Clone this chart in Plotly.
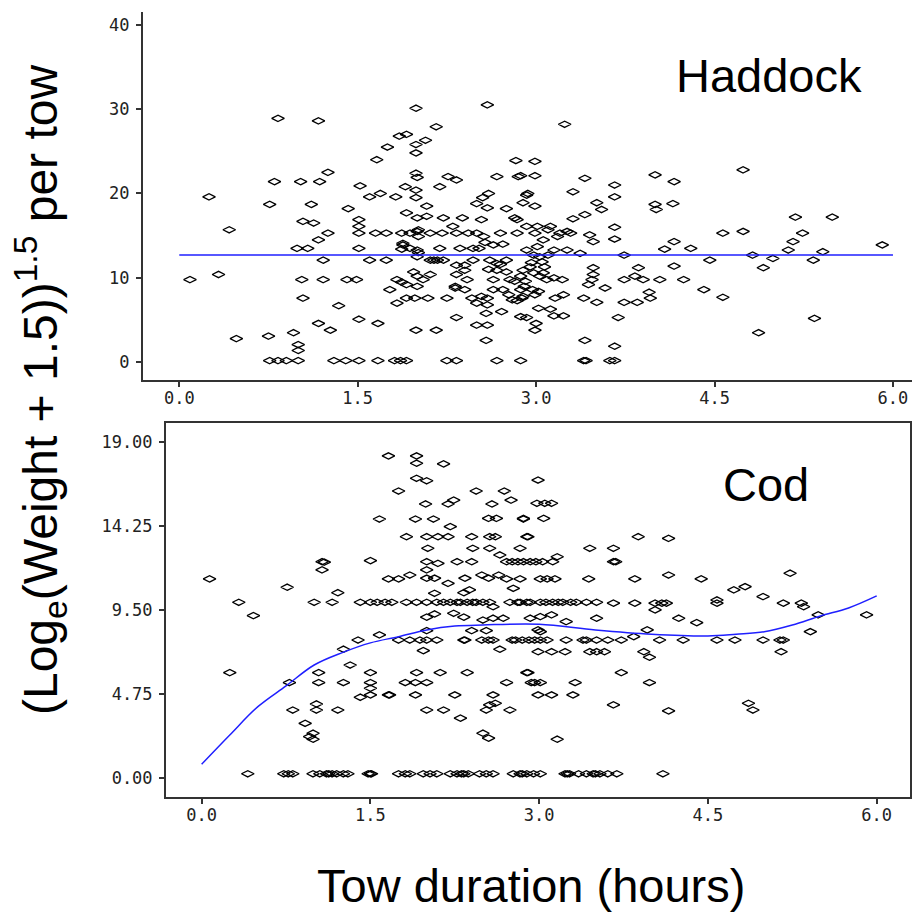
import plotly.graph_objects as go

# ---------------- Haddock (top panel) ----------------
haddock_pts = [
    (0.25,19.6),(0.83,28.9),(1.17,28.6),(0.80,21.4),(0.76,18.7),(1.02,21.4),(1.18,21.4),(1.25,22.5),(1.11,18.7),(1.42,18.2),
    (1.52,20.9),(1.60,19.6),(1.69,20.0),(1.82,19.6),(1.66,24.0),(1.75,25.5),(1.85,26.8),(1.91,27.0),(1.99,30.1),(1.99,25.8),
    (1.99,24.8),(2.07,26.3),(2.16,27.9),(1.99,22.4),(2.00,21.9),(1.99,20.4),(1.99,19.5),(1.90,20.8),(2.19,20.8),(2.26,22.0),
    (2.33,21.6),(2.59,30.5),(2.83,23.9),(2.67,22.0),(2.85,22.0),(2.60,20.0),(2.55,19.5),(2.50,18.8),(2.59,18.3),(2.75,18.2),
    (2.89,18.9),(2.92,19.8),(3.24,28.2),(2.99,23.8),(2.99,22.1),(2.87,22.1),(3.41,21.8),(3.31,20.2),(2.93,20.0),(3.66,21.0),
    (3.66,19.6),(3.51,18.9),(4.00,22.2),(4.16,21.4),(4.15,18.8),(4.00,18.7),(4.74,22.8),(3.55,18.1),(4.01,18.1),(5.18,17.2),
    (5.49,17.2),(4.57,15.3),(4.74,15.5),(5.24,15.3),(5.16,14.3),(5.12,13.3),(5.41,13.1),(5.91,13.9),(5.33,12.1),(4.99,12.3),
    (4.82,12.7),(4.91,11.2),(4.16,14.3),(4.08,13.4),(4.30,13.5),(4.46,12.1),(4.16,11.4),(4.24,9.8),(4.41,8.6),(4.57,7.7),
    (4.04,9.8),(3.86,11.2),(3.83,10.2),(3.90,9.8),(3.74,9.8),(3.95,8.3),(3.96,7.6),(3.74,7.1),(3.85,7.1),(3.74,12.7),
    (3.37,12.9),(3.66,16.0),(3.66,14.6),(3.48,14.3),(3.45,15.1),(3.41,17.5),(3.31,17.0),(3.48,11.2),(3.47,9.8),(3.44,9.2),
    (3.58,8.8),(3.40,7.6),(3.51,7.1),(3.69,5.3),(3.41,2.6),(3.66,1.9),(3.40,0.2),(3.42,0.2),(3.62,0.2),(3.66,0.2),
    (2.87,0.2),(4.87,3.5),(5.34,5.2),(3.00,4.6),(2.99,3.8),(2.87,5.4),(2.92,5.3),(3.02,6.4),(3.12,6.3),(3.15,5.5),
    (3.23,5.5),(3.16,7.6),(3.23,8.0),(2.99,8.0),(2.89,7.8),(3.22,9.8),(3.15,10.0),(3.09,9.8),(3.03,10.2),(2.98,10.6),
    (2.91,9.6),(3.07,11.3),(2.95,11.3),(2.89,10.9),(3.03,12.5),(2.98,12.7),(2.92,13.3),(3.01,13.7),(3.15,13.3),(3.26,13.3),
    (3.06,14.5),(2.99,15.3),(3.10,15.7),(3.20,15.3),(3.29,15.3),(2.92,16.1),(3.01,16.1),(3.12,16.1),(2.99,18.5),
    (0.09,9.8),(0.33,10.4),(0.42,15.7),(0.48,2.8),(0.75,3.1),(0.96,3.5),(1.00,2.1),(1.00,1.4),
    (0.76,0.2),(0.83,0.2),(0.90,0.2),(1.00,0.2),(1.30,0.2),(1.40,0.2),(1.51,0.2),(1.67,0.2),(1.81,0.2),(1.86,0.2),
    (1.91,0.2),(2.25,0.2),(2.33,0.2),(2.67,0.2),
    (1.03,9.8),(1.21,9.8),(1.41,9.8),(1.49,9.8),(1.04,7.6),(1.34,6.7),(1.17,4.6),(1.27,3.8),(1.51,5.1),(1.67,4.6),
    (1.99,3.8),(2.16,3.8),(2.33,5.3),(2.58,2.6),(2.50,4.4),(2.59,4.4),(2.58,5.8),(2.71,6.0),
    (0.99,13.5),(1.08,13.5),(1.13,16.5),(1.04,16.7),(1.17,14.5),(1.25,15.3),(1.21,12.1),(1.51,16.9),(1.51,16.1),(1.51,15.3),
    (1.51,13.5),(1.60,12.1),(1.65,15.3),(1.74,15.3),(1.74,12.1),(1.87,15.3),(1.94,15.3),(1.91,17.7),(2.00,17.1),(2.08,18.5),
    (2.00,15.5),(1.88,13.9),(1.94,13.5),(2.00,13.3),(2.11,15.3),(2.21,15.3),(2.22,17.1),(2.38,17.1),(2.30,16.1),(2.33,15.3),
    (2.43,15.3),(2.50,15.3),(2.56,14.9),(2.70,15.3),(2.19,13.5),(2.36,13.5),(2.47,13.5),(2.52,13.5),(2.64,13.9),(2.84,15.3),
    (2.84,16.9),(2.11,12.1),(2.17,12.1),(2.22,12.1),(2.33,11.5),(2.40,11.5),(2.47,12.1),(2.61,12.1),(2.67,11.7),(2.75,12.1),
    (2.40,10.9),(2.67,10.9),(1.83,9.8),(1.91,9.2),(2.00,9.0),(1.97,10.7),(2.05,9.8),(2.11,10.4),(1.77,8.6),(1.83,7.0),
    (1.91,7.6),(1.98,7.6),(2.09,7.6),(2.25,7.6),(2.32,8.8),(2.40,8.6),(2.46,7.6),(2.59,7.6),(2.59,6.8),(2.64,8.6),
    (2.72,8.6),(2.87,8.6),(2.80,7.4),(2.88,7.6),(2.64,9.8),(2.78,9.8),(2.87,10.2),(2.75,10.7),
    (1.87,13.4),(2.01,13.0),(1.88,14.1),(2.01,15.7),(2.14,12.1),(2.33,10.4),(2.42,9.8),(2.32,9.0),(2.50,7.0),(1.87,9.5),
    (2.00,10.2),(2.00,12.5),(2.01,14.9),(2.08,17.3),(2.82,17.1),(2.54,16.9),(3.18,14.9),(3.26,15.5),(2.57,14.2),(2.72,14.0),
    (3.48,10.4),(2.96,11.8),(3.05,11.9),(3.10,12.7),(3.06,10.6),(2.82,9.6),(2.90,9.0),(2.97,8.6),(3.02,8.4),(2.77,8.0),
    (2.84,7.3),(2.54,7.8),(2.60,11.0),(2.70,11.6),
]
haddock_x = [p[0] for p in haddock_pts]
haddock_y = [p[1] for p in haddock_pts]

haddock_fit_x = [0.0, 6.0]
haddock_fit_y = [12.7, 12.7]

# ---------------- Cod (bottom panel) ----------------
cod_pts = [
    (0.07,11.25),(0.33,9.93),(0.46,9.18),(0.76,10.78),(1.00,9.93),(1.16,9.93),(1.21,10.47),(1.07,12.22),(1.07,11.76),(1.09,12.2),
    (1.50,12.28),(1.58,14.63),(1.66,18.19),(1.75,16.21),(1.90,14.63),(1.91,18.19),(1.91,17.78),(2.15,17.74),(1.91,16.93),(2.00,16.79),
    (1.99,15.48),(2.19,15.48),(2.24,15.70),(2.44,16.21),(2.69,16.21),(2.58,15.48),(2.75,15.70),(2.06,14.63),(2.55,14.67),(2.62,14.67),
    (2.86,14.63),(2.21,14.20),(1.82,13.63),(2.00,13.63),(2.10,13.63),(2.19,13.63),(2.40,13.63),(2.56,13.63),(2.61,13.63),(2.89,13.63),
    (2.01,12.98),(2.41,12.98),(2.56,12.98),(2.83,12.98),(2.00,12.22),(2.10,12.13),(2.27,12.22),(2.40,12.22),(2.65,12.60),
    (2.71,12.22),(2.76,12.22),(2.81,12.22),(2.86,12.22),(2.92,12.22),(2.00,11.76),(1.66,11.25),(1.75,11.25),(1.85,11.47),
    (2.00,11.29),(2.07,11.29),(2.19,11.00),(2.34,11.29),(2.49,11.47),(2.55,11.29),(2.64,11.47),(2.71,11.25),(2.83,11.25),
    (2.77,10.72),(2.07,10.44),(2.33,10.47),(2.38,10.63),
    (1.41,9.93),(1.50,9.93),(1.56,9.93),(1.63,9.93),(1.69,9.93),(1.82,9.93),(1.91,9.93),(2.00,9.93),(2.09,9.93),(2.15,9.93),
    (2.21,9.93),(2.27,9.93),(2.30,9.93),(2.36,9.93),(2.41,9.93),(2.44,9.93),(2.50,9.93),(2.56,9.93),(2.59,9.68),(2.74,9.93),
    (2.81,9.93),(2.89,9.93),
    (0.25,5.96),(0.78,5.40),(1.04,5.96),(1.04,5.40),(1.26,5.40),(1.32,6.39),(1.26,7.28),(1.39,7.80),(1.50,5.96),(1.50,5.40),
    (1.50,5.08),(1.50,4.70),(1.41,4.57),(1.66,4.70),(1.67,4.70),(1.90,4.70),(1.81,5.40),(1.90,5.40),(2.00,5.40),(1.91,5.96),
    (2.12,5.96),(2.36,5.96),(2.00,3.85),(2.15,3.85),(2.30,3.39),(2.25,4.70),(2.59,4.70),(2.71,5.40),(2.89,5.96),(2.56,4.14),
    (2.61,4.23),(2.53,3.85),(2.74,3.85),(2.50,2.54),(2.55,2.26),(0.81,3.85),(0.92,3.10),(1.02,4.19),(1.02,3.85),(0.99,2.54),
    (0.96,2.35),(0.99,2.20),(1.21,3.85),(1.97,7.20),
    (1.75,7.80),(1.85,7.80),(1.94,7.80),(2.00,7.80),(2.09,7.80),(2.34,7.80),(2.49,7.80),(2.55,7.80),(2.59,7.80),(2.79,7.80),
    (2.85,7.80),(2.91,7.80),
    (2.00,8.33),(2.40,8.33),(2.53,8.33),(2.65,7.28),(1.58,8.09),(2.00,9.09),(2.07,9.27),(2.24,9.31),(2.33,9.09),(2.50,8.93),
    (2.59,9.03),(2.68,9.03),
    (0.41,0.25),(0.73,0.25),(0.77,0.25),(0.81,0.25),(0.99,0.25),(1.05,0.25),(1.11,0.25),(1.13,0.25),(1.16,0.25),(1.20,0.25),
    (1.26,0.25),(1.30,0.25),(1.48,0.25),(1.50,0.25),(1.51,0.25),(1.75,0.25),(1.81,0.25),(1.85,0.25),(1.97,0.25),(2.03,0.25),
    (2.09,0.25),(2.21,0.25),(2.27,0.25),(2.31,0.25),(2.33,0.25),(2.37,0.25),(2.47,0.25),(2.53,0.25),(2.59,0.25),(2.77,0.25),
    (2.83,0.25),(2.85,0.25),(2.89,0.25),(2.95,0.25),(3.01,0.25),(3.23,0.25),(3.25,0.25),(3.27,0.25),(3.35,0.25),(3.42,0.25),
    (3.48,0.25),(3.50,0.25),(3.54,0.25),(3.61,0.25),(3.69,0.25),(4.10,0.25),
    (2.83,9.93),(2.92,9.93),(3.01,9.93),(3.06,9.93),(3.12,9.93),(3.17,9.93),(3.21,9.93),(3.28,9.93),(3.33,9.93),(3.42,9.93),
    (3.51,9.93),(3.66,9.88),(3.85,9.88),(4.03,9.88),(4.09,9.88),(4.13,9.88),(4.03,9.50),(4.58,9.88),(5.17,9.88),(5.33,9.88),
    (5.35,9.68),
    (5.91,9.22),(5.48,9.22),(5.41,8.27),(2.92,9.03),(3.01,9.12),(3.11,9.22),(3.24,8.84),(3.51,9.03),(4.24,9.03),(4.40,8.78),
    (3.01,8.27),(3.96,8.37),(3.84,7.99),
    (2.76,7.80),(2.96,7.80),(3.01,7.80),(3.07,7.80),(3.24,7.80),(3.39,7.80),(3.42,7.80),(3.51,7.80),(3.61,7.80),(3.73,7.80),
    (4.07,7.80),(4.28,7.80),(4.58,7.80),(4.74,7.80),(4.99,7.80),(5.14,7.80),(5.17,7.80),
    (2.99,7.14),(3.11,7.14),(3.23,7.14),(3.45,7.14),(3.51,7.14),(3.58,7.14),(3.93,7.14),(5.15,7.14),
    (3.98,6.83),(2.90,5.96),(3.73,5.96),(2.96,5.40),(3.01,5.40),(3.32,5.40),(3.98,5.40),(2.99,4.70),(3.11,4.70),(3.30,4.70),
    (3.66,4.14),(4.15,3.80),(4.86,4.23),(4.90,3.85),(3.16,2.20),
    (2.99,16.83),(2.98,15.52),(3.05,15.52),(3.11,15.52),(2.86,14.67),(3.04,14.67),(2.90,13.63),(3.88,13.63),(4.15,13.54),
    (3.45,12.98),(3.66,12.98),(3.66,12.22),(3.68,12.22),(2.97,12.22),(3.03,12.22),(3.12,12.22),(3.16,12.50),
    (3.01,11.25),(3.07,11.25),(3.14,11.25),(3.44,11.25),(3.85,11.25),(4.15,11.47),(4.44,11.25),(5.23,11.57),
    (4.73,10.63),(4.83,10.81),(4.99,10.25),(4.58,10.06),(2.99,8.37),(2.33,7.80),(2.93,5.40),
]
cod_x = [p[0] for p in cod_pts]
cod_y = [p[1] for p in cod_pts]

cod_fit_x = [0.0, 0.25, 0.5, 0.75, 1.0, 1.25, 1.5, 1.75, 2.0, 2.25, 2.5, 3.0, 3.5, 4.0, 4.5, 4.75, 5.0, 5.25, 5.5, 5.75, 6.0]
cod_fit_y = [0.79, 2.44, 4.04, 5.21, 6.39, 7.09, 7.64, 7.99, 8.37, 8.59, 8.65, 8.69, 8.37, 8.13, 8.03, 8.13, 8.27, 8.65, 9.16, 9.61, 10.29]

x_tickvals = [0.0, 1.5, 3.0, 4.5, 6.0]
x_ticktext = ["0.0", "1.5", "3.0", "4.5", "6.0"]
haddock_yticks = [0, 10, 20, 30, 40]
cod_yticks = [0.0, 4.75, 9.5, 14.25, 19.0]
cod_yticktext = ["0.00", "4.75", "9.50", "14.25", "19.00"]

W, H = 912, 917
marker = dict(symbol="diamond-wide-open", size=9, color="black", line=dict(width=1.3, color="black"))
blue = "#1f1fff"

fig = go.Figure()
fig.add_trace(go.Scatter(x=haddock_x, y=haddock_y, mode="markers", marker=marker, xaxis="x", yaxis="y", showlegend=False))
fig.add_trace(go.Scatter(x=haddock_fit_x, y=haddock_fit_y, mode="lines", line=dict(color=blue, width=1.5), xaxis="x", yaxis="y", showlegend=False))
fig.add_trace(go.Scatter(x=cod_x, y=cod_y, mode="markers", marker=marker, xaxis="x2", yaxis="y2", showlegend=False))
fig.add_trace(go.Scatter(x=cod_fit_x, y=cod_fit_y, mode="lines", line=dict(color=blue, width=1.5, shape="spline"), xaxis="x2", yaxis="y2", showlegend=False))

tickfont = dict(family="DejaVu Sans Mono", size=17, color="#222")
axcommon = dict(showgrid=False, zeroline=False, showline=True, linecolor="#333", linewidth=2,
                ticks="outside", ticklen=5, tickwidth=2, tickcolor="#333", tickfont=tickfont)

fig.update_layout(
    width=W, height=H,
    margin=dict(l=0, r=0, t=0, b=0),
    paper_bgcolor="white", plot_bgcolor="white",
    xaxis=dict(domain=[143/W, 1.0], range=[-0.305, 6.16], tickvals=x_tickvals, ticktext=x_ticktext,
               anchor="y", mirror=False, ticklabelstandoff=-3, **axcommon),
    yaxis=dict(domain=[1-380/H, 1-12/H], range=[-2.1, 41.5], tickvals=haddock_yticks,
               anchor="x", mirror=False, ticklabelstandoff=3, **axcommon),
    xaxis2=dict(domain=[166/W, 910/W], range=[-0.317, 6.296], tickvals=x_tickvals, ticktext=x_ticktext,
                anchor="y2", mirror=True, ticklabelstandoff=-3, **axcommon),
    yaxis2=dict(domain=[1-797/H, 1-423/H], range=[-1.06, 20.05], tickvals=cod_yticks, ticktext=cod_yticktext,
                anchor="x2", mirror=True, ticklabelstandoff=3, **axcommon),
)

big = dict(family="Liberation Sans, Arial, sans-serif", size=47, color="black")
ann = dict(xref="paper", yref="paper", showarrow=False, xanchor="center", yanchor="middle")
fig.add_annotation(text="Haddock", x=769/W, y=1-75/H, font=big, **ann)
fig.add_annotation(text="Cod", x=766/W, y=1-485/H, font=big, **ann)
fig.add_annotation(text="Tow duration (hours)", x=531/W, y=1-885/H, font=big, **ann)
fig.add_annotation(text="(Log<sub>e</sub>(Weight + 1.5))<sup>1.5</sup> per tow", x=40/W, y=1-390/H,
                   textangle=-90, font=dict(family="Liberation Sans, Arial, sans-serif", size=48, color="black"), **ann)

fig.write_html("out.html", config={"displayModeBar": False},
               post_script="document.body.style.margin='0';document.body.style.overflow='hidden';")
